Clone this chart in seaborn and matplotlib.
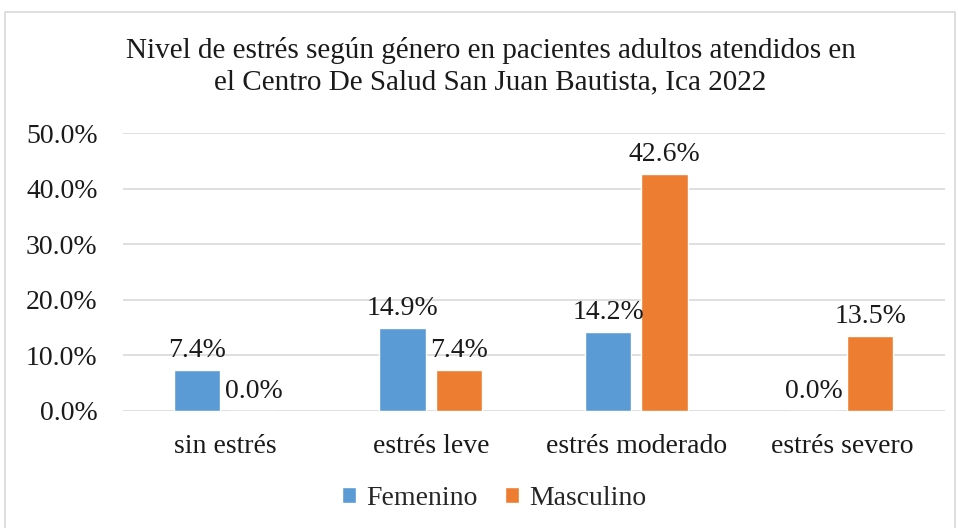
import matplotlib
matplotlib.use("Agg")
import matplotlib.pyplot as plt
import seaborn as sns
import pandas as pd
from matplotlib.patches import Rectangle
from matplotlib.ticker import FuncFormatter

# datos del grafico
niveles = ["sin estrés", "estrés leve", "estrés moderado", "estrés severo"]
femenino = [7.4, 14.9, 14.2, 0.0]
masculino = [0.0, 7.4, 42.6, 13.5]
generos = ["Femenino", "Masculino"]
colores = ["#5B9BD5", "#ED7D31"]

df = pd.DataFrame({
    "nivel": niveles * 2,
    "genero": [generos[0]] * 4 + [generos[1]] * 4,
    "valor": femenino + masculino,
})

sns.set_style("white")
plt.rcParams["font.family"] = ["Liberation Serif", "DejaVu Serif"]

fig = plt.figure(figsize=(9.58, 5.28), dpi=100)
ax = fig.add_axes([0.128, 0.222, 0.858, 0.526])

sns.barplot(data=df, x="nivel", y="valor", hue="genero", palette=colores,
            saturation=1, width=0.55, gap=0.18, ax=ax, legend=True)

ax.set_ylim(0, 50)
ax.set_yticks([0, 10, 20, 30, 40, 50])
ax.yaxis.set_major_formatter(FuncFormatter(lambda v, p: f"{v:.1f}%"))
ax.grid(axis="y", color="#D9D9D9", linewidth=1.2)
ax.set_axisbelow(True)
for s in ax.spines.values():
    s.set_visible(False)
ax.tick_params(axis="both", length=0, labelsize=20, colors="#1a1a1a")
ax.tick_params(axis="y", pad=18)
ax.tick_params(axis="x", pad=17)
ax.set_xlabel("")
ax.set_ylabel("")

for cont in ax.containers:
    for bar in cont:
        h = bar.get_height()
        ax.annotate(f"{h:.1f}%", (bar.get_x() + bar.get_width() / 2, h),
                    xytext=(0, 5), textcoords="offset points",
                    ha="center", va="bottom", fontsize=20, color="#1a1a1a")

ax.legend(loc="upper center", bbox_to_anchor=(0.452, -0.18), ncol=2,
          frameon=False, fontsize=20, handlelength=0.5, handleheight=0.5,
          handletextpad=0.35, columnspacing=1.0)

fig.suptitle("Nivel de estrés según género en pacientes adultos atendidos en\n"
             "el Centro De Salud San Juan Bautista, Ica 2022",
             x=0.512, y=0.93, fontsize=21, color="#1a1a1a", linespacing=1.25)

fig.patches.append(Rectangle((5 / 958, -0.01), 950 / 958, 1 - 12 / 528 + 0.01,
                             transform=fig.transFigure, fill=False,
                             edgecolor="#D9D9D9", linewidth=1.2))

fig.savefig("out.png", dpi=100)
